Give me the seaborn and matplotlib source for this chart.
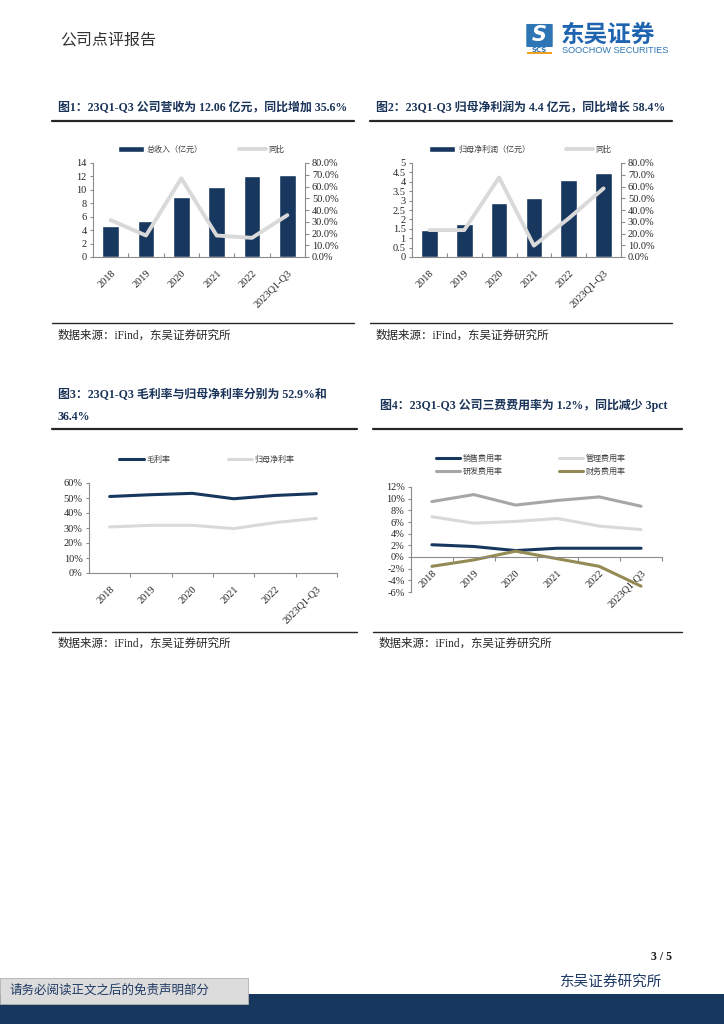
import numpy as np
import pandas as pd
import matplotlib
matplotlib.use("Agg")
import matplotlib.pyplot as plt
import seaborn as sns
from matplotlib.lines import Line2D
from matplotlib.patches import Rectangle, FancyBboxPatch
from matplotlib.ticker import FuncFormatter, FixedLocator

# Data
years = ["2018", "2019", "2020", "2021", "2022", "2023Q1-Q3"]
revenue = [4.6, 5.4, 8.9, 10.4, 12.1, 12.2]
revenue_yoy = [31.4, 18.3, 67.0, 18.3, 16.3, 35.6]
net_profit = [1.43, 1.73, 2.87, 3.14, 4.10, 4.46]
net_profit_yoy = [22.9, 22.9, 67.7, 9.7, 32.9, 58.4]
gross_margin = [51.0, 52.2, 53.1, 49.5, 51.7, 52.9]
net_margin = [30.7, 31.8, 31.8, 29.6, 33.6, 36.4]
sales_rate = [2.1, 1.8, 1.1, 1.5, 1.5, 1.5]
admin_rate = [6.9, 5.8, 6.1, 6.6, 5.3, 4.7]
rd_rate = [9.5, 10.7, 8.9, 9.7, 10.3, 8.7]
fin_rate = [-1.6, -0.5, 1.0, -0.3, -1.6, -5.0]

titles = [
    "图1：23Q1-Q3 公司营收为 12.06 亿元，同比增加 35.6%",
    "图2：23Q1-Q3 归母净利润为 4.4 亿元，同比增长 58.4%",
    "图3：23Q1-Q3 毛利率与归母净利率分别为 52.9%和\n36.4%",
    "图4：23Q1-Q3 公司三费费用率为 1.2%，同比减少 3pct",
]
source_text = "数据来源：iFind，东吴证券研究所"

NAVY = "#17375e"
LIGHT = "#d9d9d9"
MID = "#a6a6a6"
OLIVE = "#948a54"
AXIS = "#8c8c8c"
W, H = 724, 1024
TICK = 7.5

sns.set_theme(style="white")
plt.rcParams["font.family"] = ["Liberation Serif", "Noto Sans CJK SC"]
plt.rcParams["axes.unicode_minus"] = False

fig = plt.figure(figsize=(W / 100, H / 100), dpi=100)


def fx(x):
    return x / W


def fy(y):
    return 1 - y / H


def px_axes(x0, y0, x1, y1):
    return fig.add_axes([fx(x0), fy(y1), fx(x1 - x0), (y1 - y0) / H])


def hline(x0, x1, y, lw=1.6, color="#262626"):
    fig.add_artist(Line2D([fx(x0), fx(x1)], [fy(y), fy(y)], color=color, lw=lw,
                          transform=fig.transFigure))


def style_axes(ax, minor_dir="out"):
    for s in ["top", "right"]:
        ax.spines[s].set_visible(False)
    for s in ["left", "bottom"]:
        ax.spines[s].set_color(AXIS)
        ax.spines[s].set_linewidth(0.8)
    ax.tick_params(axis="y", which="both", left=True, length=2.5, width=0.8,
                   color=AXIS, labelsize=TICK, pad=2)
    ax.tick_params(axis="x", which="major", bottom=False, labelsize=TICK, pad=2)
    ax.set_xlim(-0.5, len(years) - 0.5)
    ax.set_xticks(range(len(years)))
    ax.set_xticklabels(years, rotation=45, ha="right", rotation_mode="anchor")
    ax.xaxis.set_minor_locator(FixedLocator(np.arange(0.5, len(years), 1)))
    ax.tick_params(axis="x", which="minor", bottom=True, length=3, width=0.8,
                   color=AXIS, direction=minor_dir)
    ax.set_xlabel("")
    ax.set_ylabel("")
    ax.grid(False)


def style_right(ax):
    for s in ["top", "left", "bottom"]:
        ax.spines[s].set_visible(False)
    ax.spines["right"].set_color(AXIS)
    ax.spines["right"].set_linewidth(0.8)
    ax.set_ylim(0, 80)
    ax.set_yticks(np.arange(0, 81, 10))
    ax.yaxis.set_major_formatter(FuncFormatter(lambda v, _: f"{v:.1f}%"))
    ax.tick_params(axis="y", right=True, length=3, width=0.8, color=AXIS,
                   labelsize=TICK, pad=2)
    ax.set_ylabel("")
    ax.get_legend().remove()


leg_kw = dict(frameon=False, prop={"family": "Noto Sans CJK SC", "size": 5.8},
              labelcolor="#404040", handletextpad=0.3, borderaxespad=0)

# ---------- header ----------
fig.text(fx(60), fy(40), "公司点评报告", fontsize=11.5, color="#333333",
         family="Noto Sans CJK SC", va="center")
fig.add_artist(FancyBboxPatch((fx(527), fy(46)), fx(25), 21 / H,
                              boxstyle="round,pad=0.001", fc="#2e75b6", ec="none",
                              transform=fig.transFigure))
fig.text(fx(539.5), fy(35), "S", fontsize=15, color="white", weight="bold",
         style="italic", family="DejaVu Sans", ha="center", va="center")
fig.add_artist(Rectangle((fx(527), fy(54)), fx(25), 2.5 / H, fc="#f0a020",
                         ec="none", transform=fig.transFigure))
fig.text(fx(539.5), fy(49.5), "SCS", fontsize=5, color="#2e75b6", weight="bold",
         family="DejaVu Sans", ha="center", va="center")
fig.text(fx(561), fy(34.5), "东吴证券", fontsize=17, color="#1f64b0",
         weight="bold", family="Noto Sans CJK SC", va="center")
fig.text(fx(562), fy(50.5), "SOOCHOW SECURITIES", fontsize=6.6, color="#2e75b6",
         family="Liberation Sans", va="center")

# ---------- titles, rules, sources ----------
title_kw = dict(fontsize=8.6, color="#1a3358", weight="bold")
fig.text(fx(58), fy(108), titles[0], va="center", **title_kw)
fig.text(fx(376), fy(108), titles[1], va="center", **title_kw)
fig.text(fx(58), fy(406), titles[2], va="center", linespacing=2.2, **title_kw)
fig.text(fx(380), fy(405), titles[3], va="center", **title_kw)
hline(52, 354, 121)
hline(370, 672, 121)
hline(52, 357, 429)
hline(373, 682, 429)
for x0, x1, yl, yt, xt in [(52, 354, 323, 336, 58), (370, 672, 323, 336, 376),
                           (52, 357, 632, 644, 58), (373, 682, 632, 644, 379)]:
    hline(x0, x1, yl, lw=1.0)
    fig.text(fx(xt), fy(yt), source_text, fontsize=8.3, color="#262626", va="center")

# ---------- chart 1 ----------
ax1 = px_axes(93, 163, 305, 257)
sns.barplot(x=years, y=revenue, color=NAVY, saturation=1, width=0.48,
            label="总收入（亿元）", ax=ax1)
if ax1.get_legend() is not None:
    ax1.get_legend().remove()
style_axes(ax1, minor_dir="in")
ax1.set_ylim(0, 14)
ax1.set_yticks(np.arange(0, 15, 2))
ax1b = ax1.twinx()
sns.lineplot(x=np.arange(len(years)), y=revenue_yoy, color=LIGHT, lw=2.8,
             label="同比", ax=ax1b)
style_right(ax1b)
h1, l1 = ax1.get_legend_handles_labels()
h2, l2 = ax1b.get_legend_handles_labels()
fig.legend(h1 + h2, l1 + l2, ncol=2, loc="center",
           bbox_to_anchor=(fx(201), fy(149)), handlelength=3.3, handleheight=0.8,
           columnspacing=4.5, **leg_kw)

# ---------- chart 2 ----------
ax2 = px_axes(412, 163, 621, 257)
sns.barplot(x=years, y=net_profit, color=NAVY, saturation=1, width=0.48,
            label="归母净利润（亿元）", ax=ax2)
if ax2.get_legend() is not None:
    ax2.get_legend().remove()
style_axes(ax2, minor_dir="in")
ax2.set_ylim(0, 5)
ax2.set_yticks(np.arange(0, 5.01, 0.5))
ax2.yaxis.set_major_formatter(FuncFormatter(lambda v, _: f"{v:g}"))
ax2b = ax2.twinx()
sns.lineplot(x=np.arange(len(years)), y=net_profit_yoy, color=LIGHT, lw=2.8,
             label="同比", ax=ax2b)
style_right(ax2b)
h1, l1 = ax2.get_legend_handles_labels()
h2, l2 = ax2b.get_legend_handles_labels()
fig.legend(h1 + h2, l1 + l2, ncol=2, loc="center",
           bbox_to_anchor=(fx(520), fy(149)), handlelength=3.3, handleheight=0.8,
           columnspacing=4.5, **leg_kw)

# ---------- chart 3 ----------
ax3 = px_axes(89, 483, 337, 573)
margins = pd.DataFrame({"x": np.tile(np.arange(len(years)), 2),
                        "value": gross_margin + net_margin,
                        "series": ["毛利率"] * 6 + ["归母净利率"] * 6})
sns.lineplot(data=margins, x="x", y="value", hue="series",
             palette=[NAVY, LIGHT], lw=2.2, ax=ax3)
style_axes(ax3)
ax3.set_ylim(0, 60)
ax3.set_yticks(np.arange(0, 61, 10))
ax3.yaxis.set_major_formatter(FuncFormatter(lambda v, _: f"{v:.0f}%"))
h, l = ax3.get_legend_handles_labels()
ax3.get_legend().remove()
fig.legend(h, l, ncol=2, loc="center", bbox_to_anchor=(fx(207), fy(459)),
           handlelength=3.0, columnspacing=7.2, **leg_kw)

# ---------- chart 4 ----------
ax4 = px_axes(411, 487, 662, 592)
rates = pd.DataFrame({"x": np.tile(np.arange(len(years)), 4),
                      "value": sales_rate + rd_rate + admin_rate + fin_rate,
                      "series": ["销售费用率"] * 6 + ["研发费用率"] * 6
                      + ["管理费用率"] * 6 + ["财务费用率"] * 6})
sns.lineplot(data=rates, x="x", y="value", hue="series",
             palette=[NAVY, MID, LIGHT, OLIVE], lw=2.2, ax=ax4)
ax4.spines["bottom"].set_position(("data", 0))
style_axes(ax4)
ax4.set_ylim(-6, 12)
ax4.set_yticks(np.arange(-6, 13, 2))
ax4.yaxis.set_major_formatter(FuncFormatter(lambda v, _: f"{v:.0f}%"))
h, l = ax4.get_legend_handles_labels()
ax4.get_legend().remove()
fig.legend(h, l, ncol=2, loc="center", bbox_to_anchor=(fx(531), fy(465)),
           handlelength=3.0, columnspacing=7.0, labelspacing=0.5, **leg_kw)

# ---------- footer ----------
fig.text(fx(672), fy(957), "3 / 5", fontsize=8.5, weight="bold", ha="right",
         va="center", color="#1a1a1a")
fig.text(fx(662), fy(982), "东吴证券研究所", fontsize=10.5, ha="right", va="center",
         color="#1f3a64")
fig.add_artist(Rectangle((0, 0), 1, (1024 - 994) / H, fc=NAVY, ec="none",
                         transform=fig.transFigure))
fig.add_artist(Rectangle((0, fy(1004)), fx(248), 26 / H, fc="#dcdcdc",
                         ec="#b0b0b0", lw=0.6, transform=fig.transFigure))
fig.text(fx(10), fy(991), "请务必阅读正文之后的免责声明部分", fontsize=9,
         color="#1f3a64", va="center")

fig.savefig("out.png", dpi=100)
